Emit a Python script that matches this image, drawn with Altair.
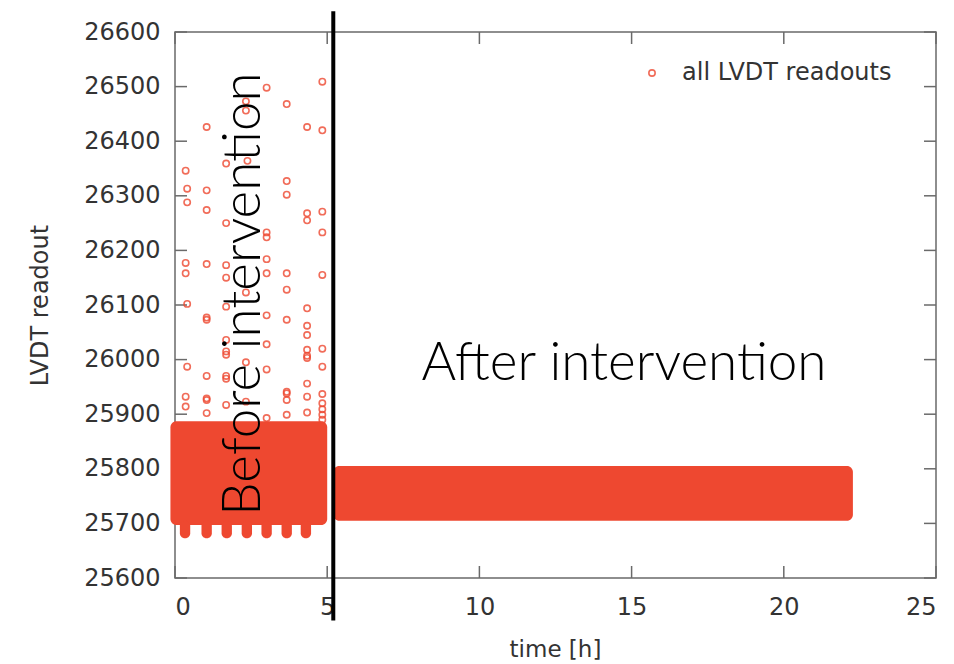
import altair as alt
import pandas as pd

# ---------------- data ----------------
# outlier readouts (time [h], LVDT readout)
out_t = [3.01, 4.84, 2.33, 3.67, 2.33, 1.04, 4.34, 4.84, 1.68, 2.38,
         0.35, 0.40, 1.04, 3.67, 3.67, 0.40, 1.04, 4.34, 4.34, 4.84,
         1.68, 3.01, 3.01, 4.84, 0.35, 1.04, 1.68, 3.01, 0.35, 1.68,
         3.01, 3.67, 4.84, 2.33, 3.67, 0.40, 1.68, 4.34, 1.04, 1.04,
         3.01, 3.67, 4.34, 4.34, 1.68, 3.01, 1.68, 1.68, 4.34, 4.34,
         4.34, 4.84, 2.33, 0.40, 4.84, 3.01, 1.04, 1.68, 1.68, 4.34,
         3.67, 3.67, 3.67, 4.34, 4.84, 0.35, 0.35, 1.04, 1.04, 1.68,
         2.33, 4.84, 4.84, 1.04, 3.67, 4.34, 4.84, 4.84, 3.01]
out_v = [26498, 26509, 26473, 26468, 26456, 26426, 26426, 26420, 26359, 26364,
         26346, 26313, 26310, 26327, 26302, 26288, 26274, 26268, 26255, 26271,
         26250, 26233, 26224, 26233, 26177, 26175, 26173, 26184, 26158, 26150,
         26158, 26158, 26155, 26123, 26128, 26102, 26097, 26094, 26077, 26073,
         26081, 26073, 26062, 26045, 26036, 26028, 26015, 26009, 26018, 26007,
         26003, 26020, 25995, 25987, 25987, 25982, 25970, 25970, 25965, 25956,
         25941, 25938, 25926, 25932, 25937, 25932, 25914, 25929, 25926, 25917,
         25923, 25920, 25909, 25902, 25899, 25903, 25899, 25890, 25893]

# dense bands of readouts (start/end time, low/high readout)
band_t0 = [-0.15, 5.2]
band_t1 = [5.0, 22.27]
band_lo = [25697, 25705]
band_hi = [25887, 25805]

# dips below the dense band before the intervention
dip_t = [0.33, 1.04, 1.70, 2.36, 3.01, 3.67, 4.30]
dip_lo = [25673, 25673, 25673, 25673, 25673, 25673, 25673]
dip_hi = [25705, 25705, 25705, 25705, 25705, 25705, 25705]

# intervention marker
interv_t = [5.2]
interv_lo = [25522]
interv_hi = [26638]

# annotations
ann_text = ["Before intervention", "After intervention"]
ann_t = [2.79, 14.75]
ann_v = [26120, 25963]

x_ticks = [0, 5, 10, 15, 20, 25]
y_ticks = [25600, 25700, 25800, 25900, 26000, 26100, 26200, 26300, 26400, 26500, 26600]

W, H = 761, 546
RED = "#ee4830"
FRAME = "#6a6a6a"
TXT = "#333333"
FONT = "DejaVu Sans"
FS = 24

# ---------------- tables ----------------
pts = pd.DataFrame({"t": out_t, "v": out_v, "s": ["all LVDT readouts"] * len(out_t)})
bands = pd.DataFrame({"t0": band_t0, "t1": band_t1, "lo": band_lo, "hi": band_hi})
dip_w = 0.17
dips = pd.DataFrame({"t0": [t - dip_w for t in dip_t], "t1": [t + dip_w for t in dip_t],
                     "lo": dip_lo, "hi": dip_hi})
interv = pd.DataFrame({"t": interv_t, "lo": interv_lo, "hi": interv_hi})
before = pd.DataFrame({"txt": ann_text[:1], "t": ann_t[:1], "v": ann_v[:1]})
after = pd.DataFrame({"txt": ann_text[1:], "t": ann_t[1:], "v": ann_v[1:]})
xt = pd.DataFrame({"t": x_ticks})
yt = pd.DataFrame({"v": y_ticks})

xscale = alt.Scale(domain=[0, 25], nice=False, zero=False)
yscale = alt.Scale(domain=[25600, 26600], nice=False, zero=False)

xaxis = alt.Axis(values=x_ticks, format="d", ticks=False, tickSize=0, domain=False, grid=False,
                 labelPadding=17, labelFont=FONT, labelFontSize=FS, labelColor=TXT,
                 title="time [h]", titleFont=FONT, titleFontSize=23, titleFontWeight="normal",
                 titleColor=TXT, titleX=380, titleY=71, titleBaseline="middle")
yaxis = alt.Axis(values=y_ticks, format="d", ticks=False, tickSize=0, domain=False, grid=False,
                 labelPadding=15, labelFont=FONT, labelFontSize=FS, labelColor=TXT,
                 title="LVDT readout", titleFont=FONT, titleFontSize=FS, titleFontWeight="normal",
                 titleColor=TXT, titleX=-135, titleY=273, titleBaseline="middle", titleAngle=270)

X = lambda f: alt.X(f, type="quantitative", scale=xscale, axis=xaxis)
Y = lambda f: alt.Y(f, type="quantitative", scale=yscale, axis=yaxis)

band_layer = alt.Chart(bands).mark_rect(color=RED, cornerRadius=6).encode(
    x=X("t0"), x2="t1", y=Y("lo"), y2="hi")
dip_layer = alt.Chart(dips).mark_rect(color=RED, cornerRadius=5).encode(
    x=X("t0"), x2="t1", y=Y("lo"), y2="hi")

pt_layer = alt.Chart(pts).mark_point(shape="circle", filled=False, size=40, strokeWidth=1.6,
                                     opacity=0.8).encode(
    x=X("t"), y=Y("v"),
    color=alt.Color("s:N", scale=alt.Scale(domain=["all LVDT readouts"], range=[RED]),
                    legend=alt.Legend(title=None, orient="none", legendX=465, legendY=29,
                                      labelFont=FONT, labelFontSize=FS, labelColor=TXT,
                                      labelLimit=0, symbolSize=40, symbolStrokeWidth=1.6,
                                      labelOffset=18, symbolOpacity=0.8,
                                      symbolType="circle", symbolFillColor="transparent")))

line_layer = alt.Chart(interv).mark_rule(color="black", strokeWidth=4).encode(
    x=X("t"), y=Y("lo"), y2="hi")

before_layer = alt.Chart(before).mark_text(angle=270, align="center", baseline="alphabetic",
                                           font="Lato", fontWeight=300, fontSize=53,
                                           color="black").encode(
    x=X("t"), y=Y("v"), text="txt")
after_layer = alt.Chart(after).mark_text(align="center", baseline="alphabetic",
                                         font="Lato", fontWeight=300, fontSize=53,
                                         color="black").encode(
    x=X("t"), y=Y("v"), text="txt")

tk = dict(color=FRAME, strokeWidth=1.5)
left_ticks = alt.Chart(yt).mark_rule(**tk).encode(y=Y("v"), x=alt.value(0), x2=alt.value(12))
right_ticks = alt.Chart(yt).mark_rule(**tk).encode(y=Y("v"), x=alt.value(W), x2=alt.value(W - 12))
bottom_ticks = alt.Chart(xt).mark_rule(**tk).encode(x=X("t"), y=alt.value(H), y2=alt.value(H - 12))
top_ticks = alt.Chart(xt).mark_rule(**tk).encode(x=X("t"), y=alt.value(0), y2=alt.value(12))

chart = alt.layer(
    left_ticks, right_ticks, bottom_ticks, top_ticks,
    band_layer, dip_layer, pt_layer, line_layer, before_layer, after_layer
).properties(
    width=W, height=H,
    autosize=alt.AutoSizeParams(type="none"),
    padding={"left": 167, "top": 24, "right": 10, "bottom": 92},
).configure(
    background="white",
    view=alt.ViewConfig(stroke=FRAME, strokeWidth=1.5, strokeOpacity=1),
)

chart.save("out.html", embed_options={"renderer": "svg", "actions": False})
